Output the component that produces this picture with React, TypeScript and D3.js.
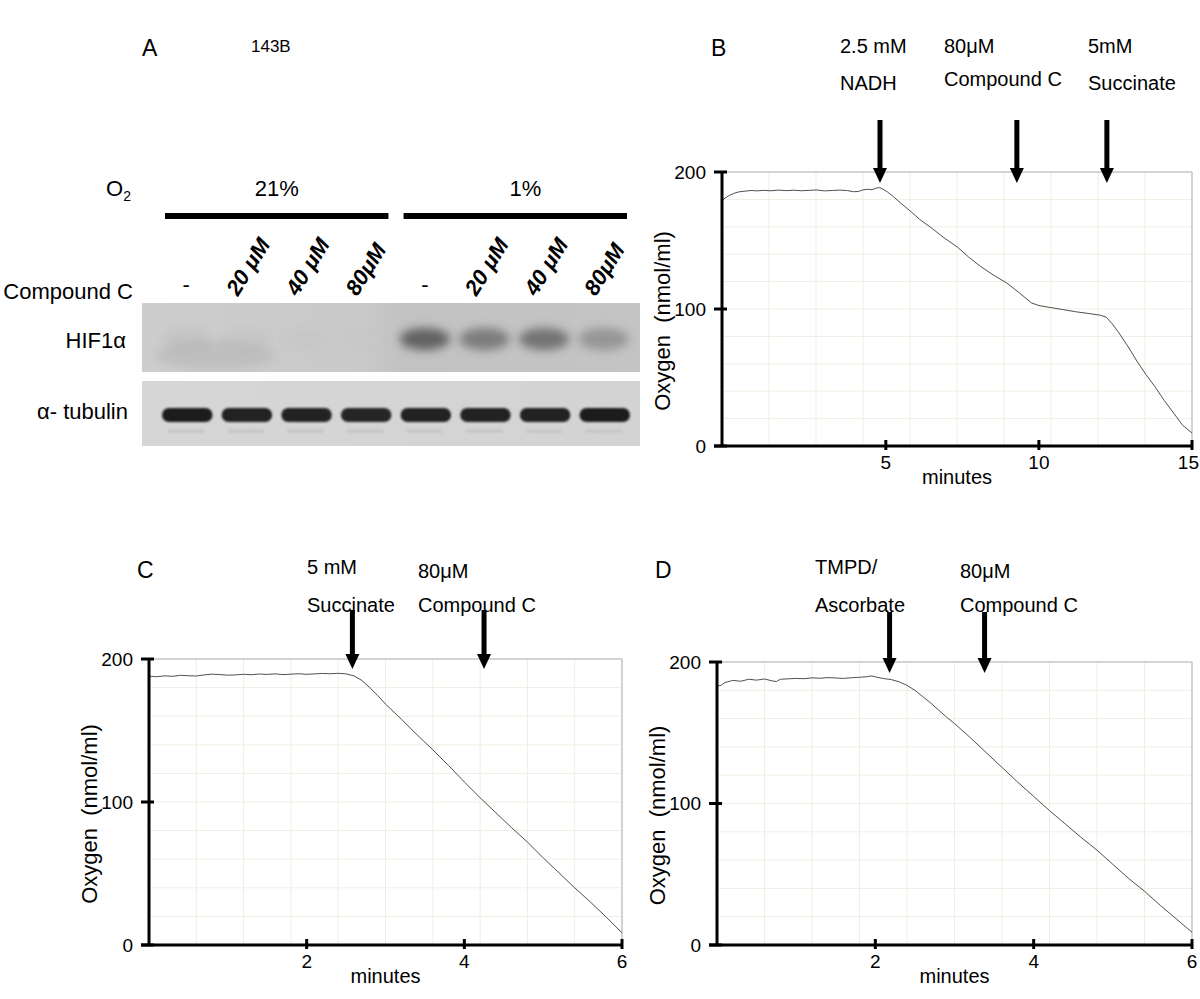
import React from "react";
import * as d3 from "d3";

const FONT = "'Liberation Sans', Arial, Helvetica, sans-serif";

// ---------- Panel A data (western blot) ----------
const laneLabels = ["-", "20 μM", "40 μM", "80μM", "-", "20 μM", "40 μM", "80μM"];
const oxygenGroups = ["21%", "1%"];
const hifIntensity = [0.06, 0.03, 0.02, 0.01, 0.85, 0.62, 0.7, 0.4];
const tubulinIntensity = [0.96, 0.94, 0.94, 0.9, 0.93, 0.92, 0.94, 0.95];

// ---------- Panel B data ----------
const bTime = [-0.35, -0.25, -0.1, 0.05, 0.2, 0.4, 0.6, 0.8, 1.0, 1.25, 1.5, 1.75, 2.0, 2.25, 2.5, 2.75, 3.0, 3.25, 3.5, 3.75, 3.95, 4.1, 4.25, 4.4, 4.55, 4.7, 4.8, 4.9, 5.05, 5.25, 5.5, 5.8, 6.1, 6.5, 6.9, 7.35, 7.7, 8.1, 8.5, 8.95, 9.35, 9.75, 10.0, 10.4, 10.8, 11.2, 11.6, 12.0, 12.2, 12.4, 12.6, 12.9, 13.2, 13.5, 13.8, 14.1, 14.4, 14.7, 15.0];
const bOxygen = [179, 181, 183, 184.5, 185.5, 186, 186.5, 186.2, 186.6, 186.3, 186.8, 186.4, 186.7, 186.3, 186.6, 186.9, 186.2, 186.5, 186.8, 186.4, 185.6, 185.8, 186.9, 187.4, 187.1, 188.3, 188.6, 187.6, 185.5, 182, 177, 171.5, 165.5, 159, 152, 145, 138, 131, 125, 119, 112, 104.5, 102.5, 101, 99.5, 98, 96.8, 95.5, 94, 89, 83, 73, 62, 52, 43, 33, 24, 15, 9.5];
const bTicks = [5, 10, 15];
const bArrows = [4.81, 9.28, 12.22];

// ---------- Panel C data ----------
const cTime = [0, 0.1, 0.2, 0.3, 0.4, 0.5, 0.6, 0.7, 0.8, 0.9, 1.0, 1.1, 1.2, 1.3, 1.4, 1.5, 1.6, 1.7, 1.8, 1.9, 2.0, 2.1, 2.2, 2.3, 2.4, 2.5, 2.6, 2.7, 2.8, 2.9, 3.0, 3.2, 3.4, 3.6, 3.8, 4.0, 4.2, 4.4, 4.6, 4.8, 5.0, 5.2, 5.4, 5.6, 5.8, 6.0];
const cOxygen = [188, 187.6, 188.2, 187.9, 188.6, 188.3, 188.1, 188.9, 189.4, 189.1, 188.7, 188.9, 189.3, 189.0, 189.5, 189.2, 189.6, 189.1, 189.4, 189.7, 189.3, 189.6, 189.9, 189.7, 190, 189.6, 188.2, 185, 180, 174.5, 168.5, 158, 147, 136.5, 125.5, 114, 103, 92.5, 82, 72, 61, 50.5, 40, 30, 19.5, 8.5];
const cTicks = [2, 4, 6];
const cArrows = [2.58, 4.25];

// ---------- Panel D data ----------
const dTime = [0, 0.05, 0.1, 0.2, 0.3, 0.4, 0.5, 0.6, 0.7, 0.75, 0.8, 0.9, 1.0, 1.1, 1.2, 1.3, 1.4, 1.5, 1.6, 1.7, 1.8, 1.9, 1.95, 2.0, 2.1, 2.2, 2.3, 2.4, 2.5, 2.6, 2.7, 2.8, 2.9, 3.0, 3.2, 3.4, 3.6, 3.8, 4.0, 4.2, 4.4, 4.6, 4.8, 5.0, 5.2, 5.4, 5.6, 5.8, 6.0];
const dOxygen = [183, 183.5, 185.5, 187, 186.4, 187.8, 187.2, 188, 186.6, 186.2, 187.8, 188.1, 188.4, 188.2, 188.8, 188.5, 189, 188.7, 188.4, 188.9, 189.2, 189.6, 190.2, 189.5, 188.3, 187.6, 186, 183.5, 180, 175.5, 171, 166, 161, 156.5, 146.5, 136, 125.5, 115, 105, 95, 85.5, 76, 67, 57, 47, 38, 28, 18.5, 9];
const dTicks = [2, 4, 6];
const dArrows = [2.18, 3.38];

const yTicks = [0, 100, 200];

type OxyProps = {
  left: number; right: number; top: number; bottom: number;
  xDomain: [number, number];
  xTicks: number[];
  times: number[];
  values: number[];
  arrows: number[];
  arrowTop: number;
  arrowTip: number;
};

function Arrow({ x, top, tip }: { x: number; top: number; tip: number }) {
  const headH = 15;
  const headW = 14;
  return (
    <g>
      <rect x={x - 2.5} y={top} width={5} height={tip - headH - top + 1} fill="#000" />
      <polygon points={`${x - headW / 2},${tip - headH} ${x + headW / 2},${tip - headH} ${x},${tip}`} fill="#000" />
    </g>
  );
}

function OxyPanel(p: OxyProps) {
  const x = d3.scaleLinear().domain(p.xDomain).range([p.left, p.right]);
  const y = d3.scaleLinear().domain([0, 200]).range([p.bottom, p.top]);
  const pts = d3.zip(p.times, p.values) as [number, number][];
  const line = d3.line<[number, number]>().x((d) => x(d[0])).y((d) => y(d[1]));
  const gridXs = d3.range(1, 10).map((i) => p.xDomain[0] + (i * (p.xDomain[1] - p.xDomain[0])) / 10);
  const gridYs = d3.range(20, 200, 20);
  const x0 = p.left;
  const y0 = p.bottom;
  return (
    <g>
      {gridXs.map((g, i) => (
        <line key={"gx" + i} x1={x(g)} x2={x(g)} y1={p.top} y2={p.bottom} stroke="#efeee4" strokeWidth={1} />
      ))}
      {gridYs.map((g, i) => (
        <line key={"gy" + i} x1={p.left} x2={p.right} y1={y(g)} y2={y(g)} stroke="#efeee4" strokeWidth={1} />
      ))}
      <line x1={p.left} x2={p.right} y1={y(200)} y2={y(200)} stroke="#a9a9a9" strokeWidth={1} />
      <line x1={p.right} x2={p.right} y1={y(200)} y2={p.bottom} stroke="#c4c4c4" strokeWidth={1.5} />
      <path d={line(pts) || ""} fill="none" stroke="#505050" strokeWidth={1} />
      {/* y axis */}
      <line x1={x0} x2={x0} y1={y(200) - 1} y2={y0} stroke="#000" strokeWidth={3} />
      {yTicks.map((t) => (
        <g key={"yt" + t}>
          <line x1={x0 - 8} x2={x0 + 5} y1={y(t)} y2={y(t)} stroke="#000" strokeWidth={3} />
          <text x={x0 - 16} y={y(t)} dy="0.35em" textAnchor="end" fontSize={19} fontFamily={FONT}>{t}</text>
        </g>
      ))}
      {/* x axis */}
      <line x1={x0 - 8} x2={p.right + 1} y1={y0} y2={y0} stroke="#000" strokeWidth={3} />
      {p.xTicks.map((t) => {
        const tx = x(t);
        const nearEdge = tx + String(t).length * 6 > 1198;
        return (
          <g key={"xt" + t}>
            <line x1={tx} x2={tx} y1={y0 - 6} y2={y0 + 4} stroke="#000" strokeWidth={3} />
            <text x={nearEdge ? 1199 : tx} y={y0 + 23} textAnchor={nearEdge ? "end" : "middle"} fontSize={19} fontFamily={FONT}>{t}</text>
          </g>
        );
      })}
      <text x={(p.left + p.right) / 2} y={y0 + 38} textAnchor="middle" fontSize={20} fontFamily={FONT}>minutes</text>
      <text
        transform={`translate(${p.left - 52},${(p.top + p.bottom) / 2 + 12}) rotate(-90)`}
        textAnchor="middle"
        fontSize={22}
        fontFamily={FONT}
        xmlSpace="preserve"
      >
        {"Oxygen  (nmol/ml)"}
      </text>
      {p.arrows.map((a, i) => (
        <Arrow key={"ar" + i} x={x(a)} top={p.arrowTop} tip={p.arrowTip} />
      ))}
    </g>
  );
}

function BlotPanel() {
  const lanes = d3.scaleBand<number>().domain(d3.range(laneLabels.length)).range([160, 630]).paddingInner(0.12);
  const bw = lanes.bandwidth();
  const tubColor = d3.scaleLinear<string>().domain([0, 1]).range(["#d4d4d4", "#141414"]);
  const blotL = 142, blotR = 640;
  const hifTop = 303, hifBot = 372, tubTop = 381, tubBot = 446;
  return (
    <g fontFamily={FONT}>
      <defs>
        <linearGradient id="hifbg" x1="0" x2="1" y1="0" y2="0">
          <stop offset="0" stopColor="#cdcdcd" />
          <stop offset="0.45" stopColor="#c9c9c9" />
          <stop offset="0.52" stopColor="#c2c2c2" />
          <stop offset="1" stopColor="#c4c4c4" />
        </linearGradient>
        <linearGradient id="tubbg" x1="0" x2="1" y1="0" y2="0">
          <stop offset="0" stopColor="#d6d6d6" />
          <stop offset="1" stopColor="#d3d3d3" />
        </linearGradient>
        <filter id="blurBig" x="-50%" y="-80%" width="200%" height="260%">
          <feGaussianBlur stdDeviation="5" />
        </filter>
        <filter id="blurSmall" x="-20%" y="-60%" width="140%" height="220%">
          <feGaussianBlur stdDeviation="1.3" />
        </filter>
        <clipPath id="hifClip"><rect x={blotL} y={hifTop} width={blotR - blotL} height={hifBot - hifTop} /></clipPath>
        <clipPath id="tubClip"><rect x={blotL} y={tubTop} width={blotR - blotL} height={tubBot - tubTop} /></clipPath>
      </defs>

      <text x={142} y={56} fontSize={23}>A</text>
      <text x={251} y={52} fontSize={17}>143B</text>

      {/* O2 label */}
      <text x={106} y={196} fontSize={22}>O<tspan fontSize={14} dy={5}>2</tspan></text>
      {oxygenGroups.map((g, gi) => {
        const x1 = (lanes(gi * 4) as number) + 5;
        const x2 = (lanes(gi * 4 + 3) as number) + bw - 3;
        return (
          <g key={g}>
            <rect x={x1} y={213} width={x2 - x1} height={6} fill="#000" />
            <text x={(x1 + x2) / 2 + gi * 10} y={196} textAnchor="middle" fontSize={22}>{g}</text>
          </g>
        );
      })}

      <text x={133} y={299} textAnchor="end" fontSize={22}>Compound C</text>
      {laneLabels.map((l, i) => {
        const cx = (lanes(i) as number) + bw / 2;
        if (l === "-") {
          return <text key={i} x={cx} y={292} textAnchor="middle" fontSize={22}>-</text>;
        }
        return (
          <text key={i} transform={`translate(${cx - 8},${297}) rotate(-58)`} fontSize={22} fontWeight="bold" fontStyle="italic">{l}</text>
        );
      })}

      <text x={126} y={348} textAnchor="end" fontSize={22}>HIF1α</text>
      <text x={128} y={419} textAnchor="end" fontSize={22}>α- tubulin</text>

      {/* HIF1a blot */}
      <rect x={blotL} y={hifTop} width={blotR - blotL} height={hifBot - hifTop} fill="url(#hifbg)" />
      <g clipPath="url(#hifClip)">
        <ellipse cx={215} cy={355} rx={60} ry={14} fill="#b5b5b5" opacity={0.6} filter="url(#blurBig)" />
        {hifIntensity.map((v, i) => {
          const cx = (lanes(i) as number) + bw / 2;
          return (
            <ellipse key={i} cx={cx} cy={339} rx={bw / 2 - 1} ry={11} fill="#3c3c3c" opacity={v * 0.85} filter="url(#blurBig)" />
          );
        })}
      </g>
      {/* tubulin blot */}
      <rect x={blotL} y={tubTop} width={blotR - blotL} height={tubBot - tubTop} fill="url(#tubbg)" />
      <g clipPath="url(#tubClip)">
        {tubulinIntensity.map((v, i) => (
          <rect key={i} x={(lanes(i) as number) + 2} y={408} width={bw - 2} height={14} rx={7} fill={tubColor(v)} filter="url(#blurSmall)" />
        ))}
        {tubulinIntensity.map((v, i) => (
          <rect key={"f" + i} x={(lanes(i) as number) + 8} y={429} width={bw - 16} height={4} fill="#c8c8c8" filter="url(#blurSmall)" />
        ))}
      </g>
    </g>
  );
}

export default function App() {
  return (
    <svg width={1200} height={999} style={{ position: "absolute", left: 0, top: 0, background: "#fff" }} fontFamily={FONT}>
      <rect x={0} y={0} width={1200} height={999} fill="#fff" />
      <BlotPanel />

      {/* Panel B */}
      <text x={711} y={56} fontSize={23}>B</text>
      <text x={840} y={53} fontSize={20}>2.5 mM</text>
      <text x={840} y={90} fontSize={20}>NADH</text>
      <text x={944} y={53} fontSize={20}>80μM</text>
      <text x={944} y={86} fontSize={20}>Compound C</text>
      <text x={1088} y={53} fontSize={20}>5mM</text>
      <text x={1088} y={90} fontSize={20}>Succinate</text>
      <OxyPanel left={722} right={1192} top={172} bottom={446} xDomain={[-0.35, 15]} xTicks={bTicks} times={bTime} values={bOxygen} arrows={bArrows} arrowTop={120} arrowTip={183} />

      {/* Panel C */}
      <text x={137} y={578} fontSize={23}>C</text>
      <text x={307} y={574} fontSize={20}>5 mM</text>
      <text x={307} y={612} fontSize={20}>Succinate</text>
      <text x={418} y={578} fontSize={20}>80μM</text>
      <text x={418} y={612} fontSize={20}>Compound C</text>
      <OxyPanel left={149} right={622} top={659} bottom={945} xDomain={[0, 6]} xTicks={cTicks} times={cTime} values={cOxygen} arrows={cArrows} arrowTop={610} arrowTip={669} />

      {/* Panel D */}
      <text x={655} y={578} fontSize={23}>D</text>
      <text x={815} y={574} fontSize={20}>TMPD/</text>
      <text x={815} y={612} fontSize={20}>Ascorbate</text>
      <text x={960} y={578} fontSize={20}>80μM</text>
      <text x={960} y={612} fontSize={20}>Compound C</text>
      <OxyPanel left={717} right={1192} top={662} bottom={945} xDomain={[0, 6]} xTicks={dTicks} times={dTime} values={dOxygen} arrows={dArrows} arrowTop={612} arrowTip={673} />
    </svg>
  );
}
